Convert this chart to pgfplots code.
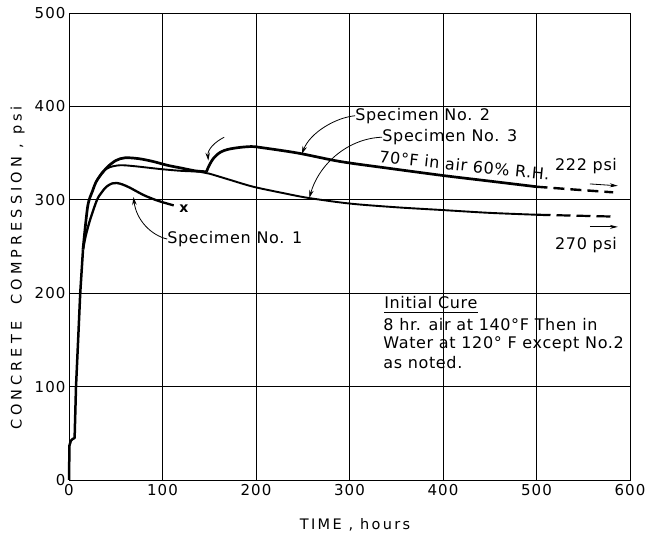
\documentclass[border=0pt]{standalone}
\usepackage{fontspec}
\setmainfont{DejaVu Sans}
\usepackage{pgfplots}
\pgfplotsset{compat=1.18}
\usetikzlibrary{arrows.meta}
\newcommand{\annfont}{\fontsize{16}{19}\selectfont\addfontfeature{LetterSpace=4}}
\begin{document}
\begin{tikzpicture}
\begin{axis}[
  scale only axis, width=561pt, height=467pt,
  xmin=0, xmax=600, ymin=0, ymax=500,
  xtick={0,100,200,300,400,500,600},
  ytick={0,100,200,300,400,500},
  grid=major,
  major grid style={black, line width=0.7pt},
  axis line style={black, line width=0.9pt},
  major tick length=0pt,
  /pgf/number format/assume math mode=true,
  tick label style={font=\fontsize{15}{17}\selectfont\addfontfeature{LetterSpace=7}},
  xticklabel style={yshift=-1pt},
  yticklabel style={xshift=0pt},
  clip=false,
]
\coordinate (O) at (rel axis cs:0,0);
% common initial rise
\addplot[black, line width=2.5pt, line join=round] coordinates {
 (0,0) (0.5,37) (2,42) (4,44) (6,45) (7.5,100) (10,155) (12,200) (15,247)
};
% Specimen No. 2 (before change)
\addplot[black, line width=2.7pt, smooth, line join=round] coordinates {
 (15,247) (20,293) (25,309) (30,321) (40,334) (50,342) (60,345) (75,344)
 (90,341) (105,337) (120,334) (135,331) (147,330)
};
% Specimen No. 2 (after change)
\addplot[black, line width=2.7pt, smooth, line join=round] coordinates {
 (147,330) (150,337) (155,345) (162,351) (170,354) (182,356) (195,357)
 (205,356) (245,350) (290,341) (340,334) (400,326) (450,320) (500,314)
};
\addplot[black, line width=2.4pt, dash pattern=on 11pt off 6pt] coordinates {
 (500,314) (540,311) (582,308)
};
% Specimen No. 3
\addplot[black, line width=1.9pt, smooth, line join=round] coordinates {
 (30,321) (36,330) (44,335) (55,337) (70,336) (97,333) (120,331) (140,330)
 (150,328) (170,322) (197,314) (230,307) (256,302) (300,296) (350,292)
 (400,289) (450,286) (500,284)
};
\addplot[black, line width=2.2pt, dash pattern=on 14pt off 6pt] coordinates {
 (500,284) (584,282)
};
% Specimen No. 1
\addplot[black, line width=2.3pt, smooth, line join=round] coordinates {
 (15,247) (18,262) (23,280) (30,300) (35,308) (40,314) (46,317.5) (51,318)
 (57,316.5) (65,313) (80,305) (95,299) (112,294)
};
\node[font=\fontsize{14}{16}\selectfont\bfseries] at (axis cs:123,290) {x};

% Labels and leaders
\node[anchor=west, font=\annfont, inner sep=0pt] at (axis cs:306,390) {Specimen No. 2};
\draw[black, line width=0.8pt, -{Stealth[length=8pt,width=4.5pt]}]
  (axis cs:306,390) .. controls (axis cs:285,388) and (axis cs:258,372) .. (axis cs:249,349);
\node[anchor=west, font=\annfont, inner sep=0pt] at (axis cs:335,367) {Specimen No. 3};
\draw[black, line width=0.8pt, -{Stealth[length=8pt,width=4.5pt]}]
  (axis cs:335,367) .. controls (axis cs:300,366) and (axis cs:268,340) .. (axis cs:257,302);
\node[font=\annfont, rotate=-6, inner sep=0pt] at (axis cs:423,337) {70°F in air 60\% R.H.};
\node[anchor=west, font=\annfont, inner sep=0pt] at (axis cs:105,258) {Specimen No. 1};
\draw[black, line width=0.8pt, -{Stealth[length=8pt,width=4.5pt]}]
  (axis cs:105,258) .. controls (axis cs:88,262) and (axis cs:72,278) .. (axis cs:69,303);
\draw[black, line width=0.8pt, -{Stealth[length=8pt,width=4.5pt]}]
  (axis cs:166,367) .. controls (axis cs:156,362) and (axis cs:148,354) .. (axis cs:149,342);

\node[font=\annfont] at (axis cs:553,336) {222 psi};
\draw[black, line width=0.8pt, -{Stealth[length=8pt,width=4pt]}] (axis cs:557,317) -- (axis cs:587,315);
\node[font=\annfont] at (axis cs:553,252) {270 psi};
\draw[black, line width=0.8pt, -{Stealth[length=8pt,width=4pt]}] (axis cs:557,271) -- (axis cs:587,271);

% Initial cure block
\node[anchor=west, font=\annfont, inner sep=0pt] (ic) at (axis cs:337,190) {Initial Cure};
\draw[black, line width=0.7pt] ([yshift=-3pt]ic.south west) -- ([yshift=-3pt]ic.south east);
\node[anchor=west, font=\annfont, inner sep=0pt] at (axis cs:336,166) {8 hr. air at 140°F Then in};
\node[anchor=west, font=\annfont, inner sep=0pt] at (axis cs:336,145) {Water at 120° F except No.2};
\node[anchor=west, font=\annfont, inner sep=0pt] at (axis cs:336,126) {as noted.};

% axis labels
\node[rotate=90, font=\fontsize{14.5}{16}\selectfont\addfontfeature{LetterSpace=28}] at (axis cs:-55,227) {CONCRETE\ \ COMPRESSION , psi};
\node[font=\fontsize{14.5}{16}\selectfont\addfontfeature{LetterSpace=16}] at (axis cs:306,-48) {TIME , hours};
\end{axis}
\pgfresetboundingbox
\path ([shift={(-69pt,-55pt)}]O) rectangle ++(647pt,535pt);
\end{tikzpicture}
\end{document}
